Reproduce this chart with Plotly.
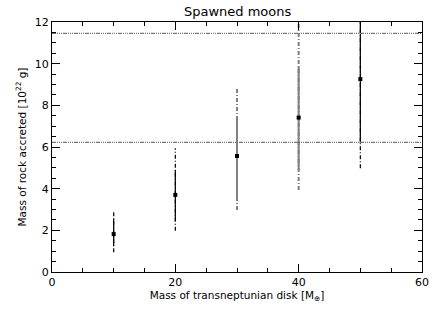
import plotly.graph_objects as go

disk_mass = [10, 20, 30, 40, 50]
rock_mass = [1.82, 3.70, 5.57, 7.41, 9.26]
inner_lo = [1.25, 2.46, 3.59, 4.90, 6.20]
inner_hi = [2.55, 4.90, 7.39, 9.86, 13.0]
outer_lo = [0.95, 1.98, 2.98, 3.94, 4.98]
outer_hi = [2.95, 5.94, 8.85, 13.0, 13.0]
bar_colors = ["black", "black", "#808080", "#808080", "black"]
bar_widths = [1.2, 1.2, 2, 2, 1.2]
ref_levels = [11.45, 6.22]

fig = go.Figure()

for x, lo, hi, c, w in zip(disk_mass, outer_lo, outer_hi, bar_colors, bar_widths):
    fig.add_trace(go.Scatter(x=[x, x], y=[lo, hi], mode="lines",
                             line=dict(color=c, width=w, dash="4px,2px,1px,2px"),
                             showlegend=False, hoverinfo="skip"))
for x, lo, hi, c, w in zip(disk_mass, inner_lo, inner_hi, bar_colors, bar_widths):
    fig.add_trace(go.Scatter(x=[x, x], y=[lo, hi], mode="lines",
                             line=dict(color=c, width=w),
                             showlegend=False, hoverinfo="skip"))

for lvl in ref_levels:
    fig.add_trace(go.Scatter(x=[0, 60], y=[lvl, lvl], mode="lines",
                             line=dict(color="#777777", width=1.2,
                                       dash="4px,1px,1px,1px,1px,1px,1px,1px"),
                             showlegend=False, hoverinfo="skip"))

fig.add_trace(go.Scatter(x=disk_mass, y=rock_mass, mode="markers",
                         marker=dict(symbol="square", size=4, color="black"),
                         showlegend=False))

axis_common = dict(showgrid=False, zeroline=False, showline=True, linecolor="black",
                   linewidth=1.2, mirror="ticks", ticks="inside", tickcolor="black",
                   automargin=False,
                   tickfont=dict(family="DejaVu Sans", size=11, color="black"))

fig.update_xaxes(range=[0, 60], tickvals=[0, 20, 40, 60], ticklen=8,
                 minor=dict(dtick=5, ticks="inside", ticklen=4, tickcolor="black"),
                 title=dict(text="Mass of transneptunian disk [M<sub>⊕</sub>]",
                            font=dict(family="DejaVu Sans", size=10.5, color="black"),
                            standoff=2),
                 **axis_common)
fig.update_yaxes(range=[0, 12], dtick=2, ticklen=8,
                 minor=dict(dtick=0.5, ticks="inside", ticklen=4, tickcolor="black"),
                 title=dict(text="Mass of rock accreted [10<sup>22</sup> g]",
                            font=dict(family="DejaVu Sans", size=10.5, color="black"),
                            standoff=6),
                 **axis_common)

fig.update_layout(
    width=436, height=311,
    margin=dict(l=52, r=14, t=22, b=39),
    paper_bgcolor="white", plot_bgcolor="white",
    title=dict(text="Spawned moons", x=0.545, xanchor="center", y=0.962, yanchor="middle",
               font=dict(family="DejaVu Sans", size=13, color="black")),
)

fig.write_html("out.html", config={"displayModeBar": False},
               post_script="document.body.style.margin='0px';document.body.style.overflow='hidden';")
